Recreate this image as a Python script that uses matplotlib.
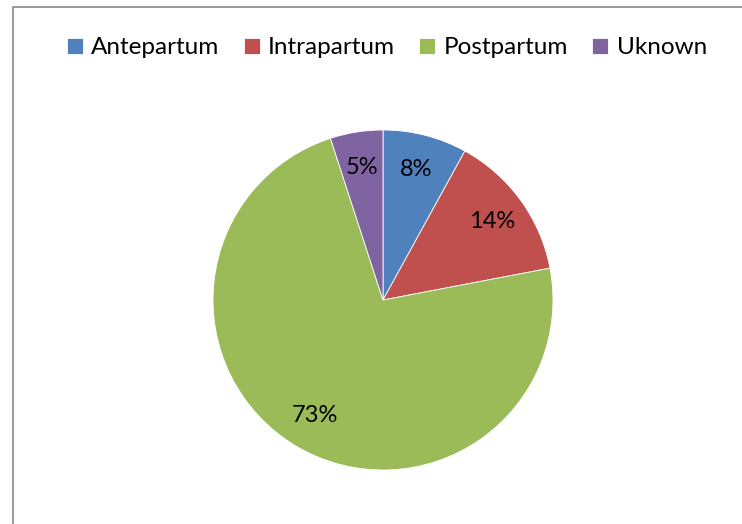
import matplotlib.pyplot as plt
from matplotlib.patches import Rectangle

labels = ["Antepartum", "Intrapartum", "Postpartum", "Uknown"]
values = [8, 14, 73, 5]
colors = ["#4F81BD", "#C0504D", "#9BBB59", "#8064A2"]

plt.rcParams['font.family'] = ['Lato', 'DejaVu Sans']

W, H = 742, 524
fig = plt.figure(figsize=(W / 100, H / 100), dpi=100)

# chart frame (only left and top edges visible in the crop)
fig.patches.append(Rectangle((13 / W, -0.1), 1.2, (H - 7) / H + 0.1,
                             transform=fig.transFigure, fill=False,
                             edgecolor="#888888", linewidth=1.2))

cx, cy, r = 383, 300, 170
ax = fig.add_axes([(cx - r) / W, (H - cy - r) / H, 2 * r / W, 2 * r / H])
wedges, texts, autotexts = ax.pie(values, colors=colors, startangle=90,
                                  counterclock=False, radius=1,
                                  autopct="%d%%", pctdistance=0.79,
                                  wedgeprops=dict(edgecolor="white", linewidth=0.6),
                                  textprops=dict(fontsize=17, color="black"))
ax.set_xlim(-1, 1)
ax.set_ylim(-1, 1)
ax.set_aspect("equal")
ax.axis("off")

fig.legend(wedges, labels, loc="center", bbox_to_anchor=(387 / W, 1 - 48 / H),
           ncol=4, frameon=False, fontsize=17.5, handlelength=0.65,
           handleheight=0.65, handletextpad=0.35, columnspacing=1.0)

fig.savefig("out.png", dpi=100)
